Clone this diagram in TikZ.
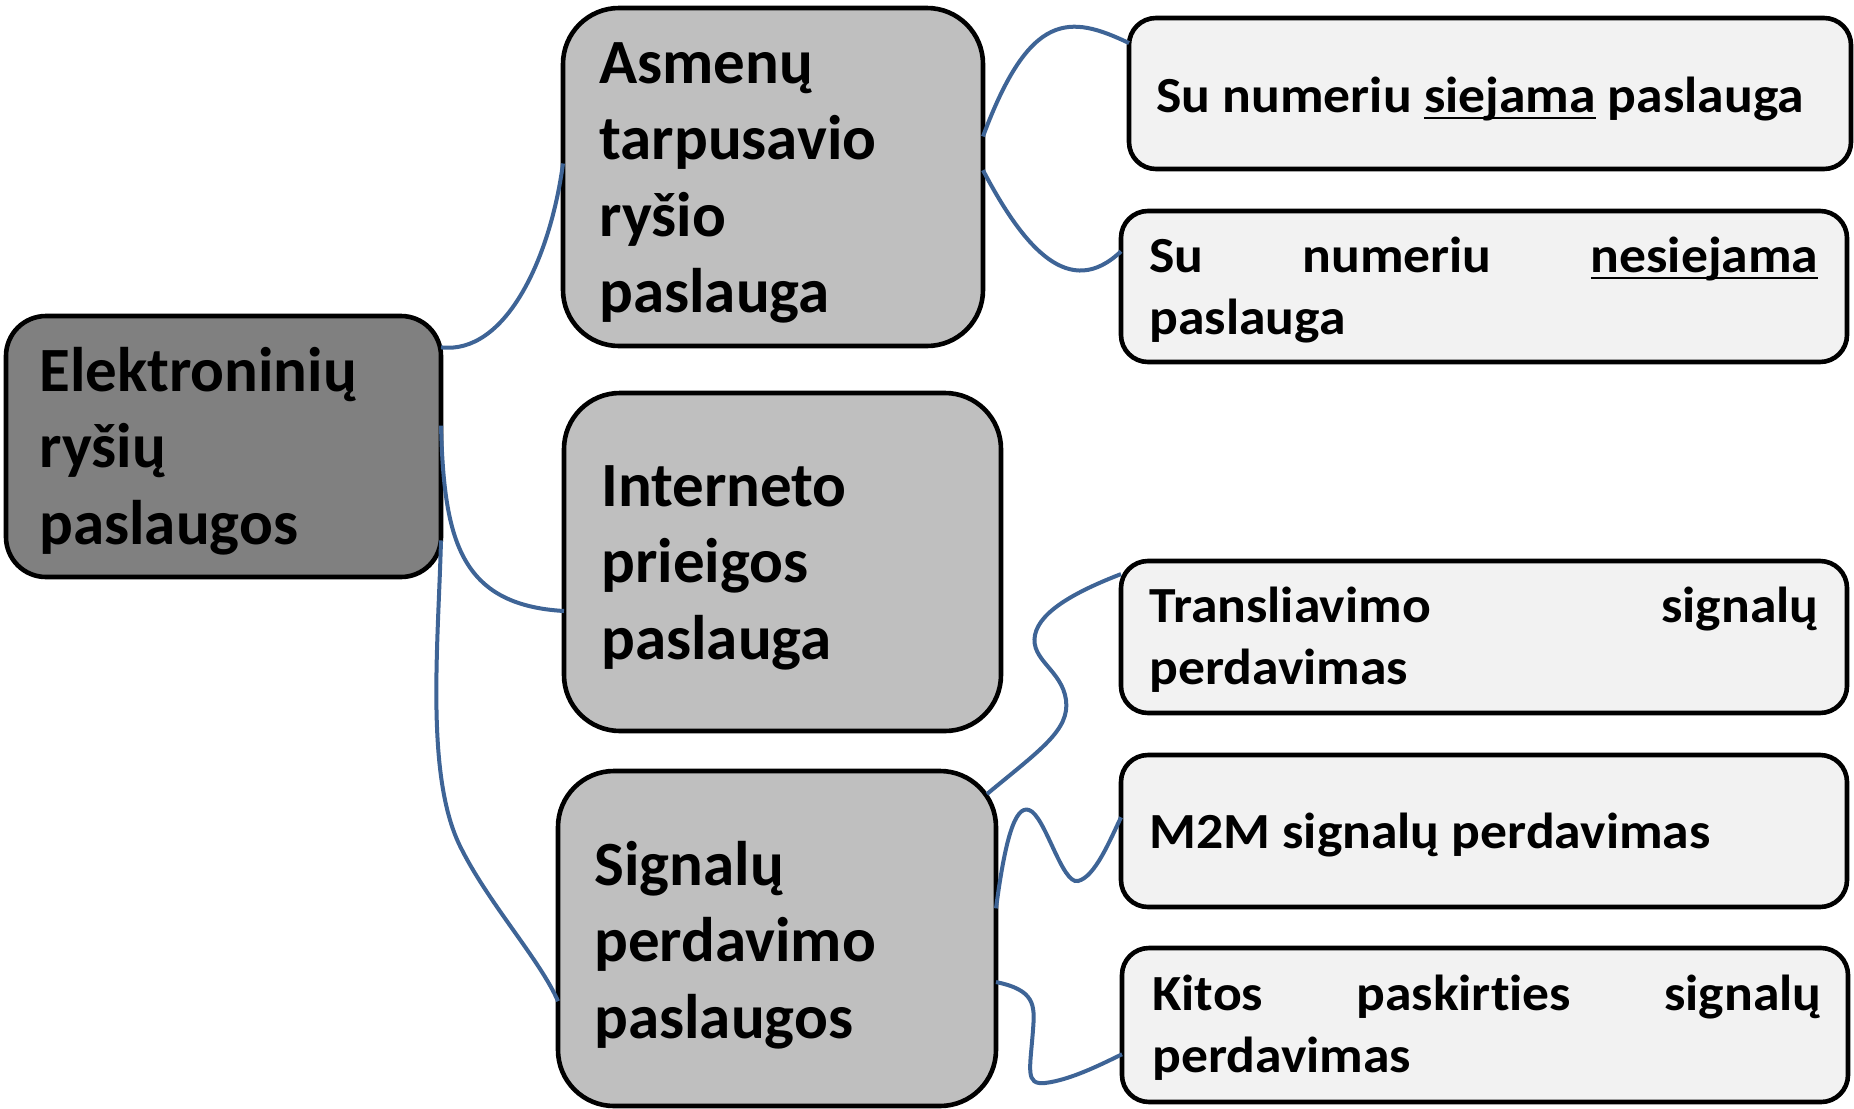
\documentclass[tikz,border=0pt]{standalone}
\usepackage{fontspec}
\setmainfont{Carlito}[Ligatures=NoCommon]
\newfontfamily\widefont{Carlito}[FakeStretch=1.06,Ligatures=NoCommon]
\usetikzlibrary{calc,fit}
\definecolor{linkblue}{RGB}{62,100,150}
\newcommand\undl[1]{\setbox0\hbox{#1}\rlap{\rule[-3.7pt]{\wd0}{1.35pt}}\box0\relax}
\tolerance=10000
\hyphenpenalty=10000

\begin{document}
\begin{tikzpicture}[x=0.5pt,y=-0.5pt,
		bigbox/.style={draw=black,line width=2.3pt,fill=black!50,rounded corners=20pt,inner sep=0pt,outer sep=0pt},
		midbox/.style={draw=black,line width=2.3pt,fill=black!25,rounded corners=28pt,inner sep=0pt,outer sep=0pt},
		endbox/.style={draw=black,line width=2.3pt,fill=black!5,rounded corners=13.5pt,inner sep=0pt,outer sep=0pt},
		bigtxt/.style={anchor=base west,inner sep=0pt,align=left,text width=180pt,font=\fontsize{31.5}{38.3}\selectfont\bfseries},
		endtxt/.style={anchor=base west,inner sep=0pt,align=justify,text width=334.5pt,font=\widefont\fontsize{25.3}{31.2}\selectfont\bfseries},
		link/.style={draw=linkblue,line width=2pt}]
			%%%%% START %%%%%
			
			\useasboundingbox (0,0) rectangle (1854,1109);
			
			\node[bigbox,fit={(6,316) (441,577)}] (elek) {};
			
			\node[midbox,fit={(563,8) (983,346)}] (asmenu) {};
			\node[midbox,fit={(564,393) (1001,731)}] (internet) {};
			\node[midbox,fit={(558,771) (996,1106)}] (signal) {};
			
			\node[endbox,fit={(1129,18) (1851,169)}] (sieja) {};
			\node[endbox,fit={(1121,211) (1847,362)}] (nesieja) {};
			\node[endbox,fit={(1121,561) (1847,713)}] (transl) {};
			\node[endbox,fit={(1121,755) (1847,907)}] (mtom) {};
			\node[endbox,fit={(1122,948) (1848,1102)}] (kitos) {};
			
			\node[bigtxt] (elektxt) at (39,391) {Elektroninių\\ryšių\\paslaugos};
			\node[bigtxt] (asmtxt) at (599,83) {Asmenų\\tarpusavio\\ryšio\\paslauga};
			\node[bigtxt] (inttxt) at (601,506) {Interneto\\prieigos\\paslauga};
			\node[bigtxt] (sigtxt) at (594,885) {Signalų\\perdavimo\\paslaugos};
			
			\node[endtxt] (siejatxt) at (1156,112) {Su numeriu \undl{siejama} paslauga};
			\node[endtxt] (nesiejatxt) at (1149,272) {Su numeriu \undl{nesiejama} paslauga};
			\node[endtxt] (transltxt) at (1149,622) {Transliavimo signalų perdavimas};
			\node[endtxt] (mtomtxt) at (1149,848) {M2M signalų perdavimas};
			\node[endtxt] (kitostxt) at (1152,1010) {Kitos paskirties signalų perdavimas};
			
			% main -> second level
			\draw[link] ($(elek.north east)!0.12!(elek.south east)$) .. controls (505,355) and (550,260) .. ($(asmenu.north west)!0.46!(asmenu.south west)$);
			\draw[link] ($(elek.north east)!0.42!(elek.south east)$) .. controls (444,540) and (460,605) .. ($(internet.north west)!0.645!(internet.south west)$);
			\draw[link] ($(elek.north east)!0.86!(elek.south east)$) .. controls (438,650) and (425,780) .. (462,850) .. controls (490,905) and (540,960) .. ($(signal.north west)!0.687!(signal.south west)$);
			
			% second level -> third level
			\draw[link] ($(asmenu.north east)!0.38!(asmenu.south east)$) .. controls (1030,10) and (1070,15) .. ($(sieja.north west)!0.166!(sieja.south west)$);
			\draw[link] ($(asmenu.north east)!0.48!(asmenu.south east)$) .. controls (1025,250) and (1070,300) .. ($(nesieja.north west)!0.267!(nesieja.south west)$);
			
			\draw[link] ($(signal.north east)+(-9,23)$) .. controls (1040,750) and (1070,730) .. (1066,700) .. controls (1062,670) and (1030,660) .. (1035,635) .. controls (1040,610) and (1080,590) .. ($(transl.north west)!0.086!(transl.south west)$);
			\draw[link] ($(signal.north east)!0.41!(signal.south east)$) .. controls (1005,840) and (1015,805) .. (1029,810) .. controls (1045,815) and (1062,885) .. (1078,881) .. controls (1095,877) and (1110,840) .. ($(mtom.north west)!0.41!(mtom.south west)$);
			\draw[link] ($(signal.north east)!0.63!(signal.south east)$) .. controls (1035,990) and (1035,1005) .. (1033,1030) .. controls (1030,1070) and (1025,1085) .. (1045,1083) .. controls (1070,1080) and (1100,1065) .. ($(kitos.north west)!0.69!(kitos.south west)$);
			
			%%%%% END %%%%%
\end{tikzpicture}
\end{document}
